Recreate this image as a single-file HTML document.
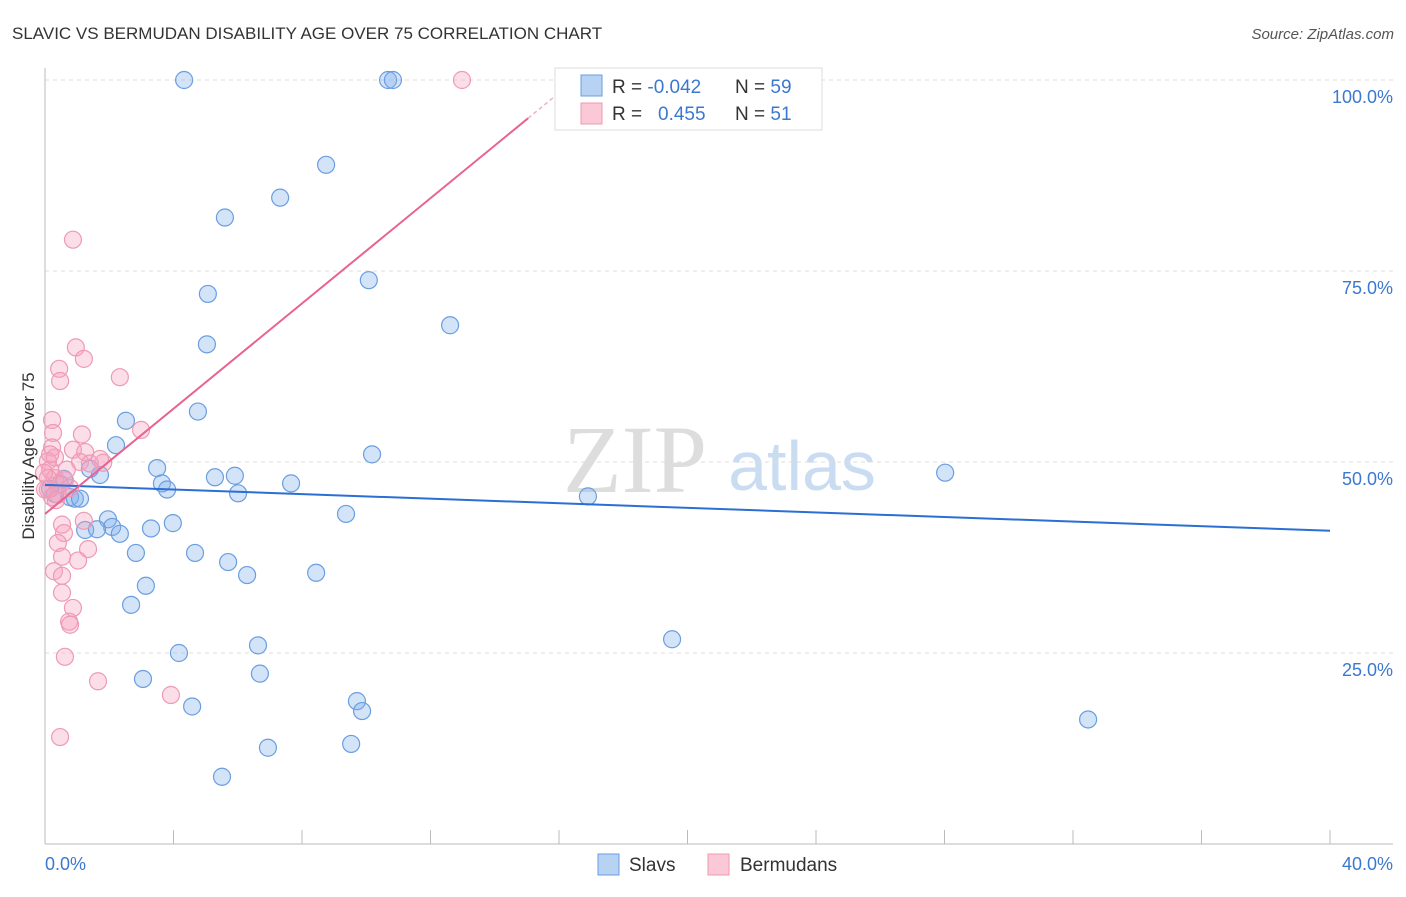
<!DOCTYPE html>
<html><head><meta charset="utf-8"><style>
body{margin:0;background:#fff;font-family:"Liberation Sans",sans-serif}
</style></head><body>
<svg width="1406" height="892" xmlns="http://www.w3.org/2000/svg">
<text x="12" y="39" font-size="17" fill="#333">SLAVIC VS BERMUDAN DISABILITY AGE OVER 75 CORRELATION CHART</text>
<text x="1394" y="39" font-size="15" fill="#555" font-style="italic" text-anchor="end">Source: ZipAtlas.com</text>
<g>
<text x="635" y="492" font-size="96" font-family="Liberation Serif,serif" fill="#ddd" text-anchor="middle">ZIP</text>
<text x="802" y="490" font-size="70" fill="#c9dcf2" text-anchor="middle">atlas</text>
</g>
<g id="grid"></g>
<g id="axes"></g>
<g id="pts"></g>
<g id="lines"></g>
<text x="34" y="456" font-size="17" fill="#333" text-anchor="middle" transform="rotate(-90 34 456)">Disability Age Over 75</text>
<text x="45" y="870" font-size="18" fill="#3b78d0">0.0%</text>
<text x="1393" y="870" font-size="18" fill="#3b78d0" text-anchor="end">40.0%</text>
<g>
<rect x="555" y="68" width="267" height="62" fill="#fff" stroke="#ddd"/>
<rect x="581" y="75" width="21" height="21" fill="#b8d2f4" stroke="#6a9ee0"/>
<rect x="581" y="103" width="21" height="21" fill="#fbc8d8" stroke="#ee9ab5"/>
<text x="612" y="93" font-size="19" fill="#333">R = <tspan fill="#3b78d0">-0.042</tspan></text>
<text x="735" y="93" font-size="19" fill="#333">N = <tspan fill="#3b78d0">59</tspan></text>
<text x="612" y="120" font-size="19" fill="#333">R = <tspan fill="#3b78d0" x="658">0.455</tspan></text>
<text x="735" y="120" font-size="19" fill="#333">N = <tspan fill="#3b78d0">51</tspan></text>
</g>
<g>
<rect x="598" y="854" width="21" height="21" fill="#b8d2f4" stroke="#6a9ee0"/>
<text x="629" y="871" font-size="19" fill="#333">Slavs</text>
<rect x="708" y="854" width="21" height="21" fill="#fbc8d8" stroke="#ee9ab5"/>
<text x="740" y="871" font-size="19" fill="#333">Bermudans</text>
</g>
</svg>
<script>
const yTicks=[25,50,75,100];
const yTickLabels=["25.0%","50.0%","75.0%","100.0%"];
const xTickVals=[0,4,8,12,16,20,24,28,32,36,40];
const slavsX=[4.33,10.68,10.83,8.75,7.32,5.60,10.08,5.07,12.61,5.04,4.76,2.52,2.21,3.49,10.18,28.02,5.29,5.91,3.64,3.80,7.66,6.01,16.90,1.71,1.40,0.59,0.31,0.78,0.93,9.37,3.98,3.30,1.96,2.09,1.25,1.62,2.33,2.83,4.67,5.70,6.29,8.44,3.14,2.68,19.52,6.63,4.17,6.69,3.05,9.71,9.87,4.58,32.47,6.94,9.53,5.51,0.16,0.47,1.09];
const slavsY=[100,100,100,88.9,84.6,82.0,73.8,72.0,67.9,65.4,56.6,55.4,52.2,49.2,51.0,48.6,48.0,48.2,47.2,46.4,47.2,45.9,45.5,48.3,49.1,47.8,45.8,45.4,45.2,43.2,42.0,41.3,42.5,41.5,41.1,41.2,40.6,38.1,38.1,36.9,35.2,35.5,33.8,31.3,26.8,26.0,25.0,22.3,21.6,18.7,17.4,18.0,16.3,12.6,13.1,8.8,46.5,47.1,45.2];
const bermX=[12.98,0.87,0.96,1.21,0.44,0.47,2.33,0.22,0.25,2.99,1.15,0.22,0.31,0.09,0.87,1.25,1.81,1.09,0.16,0.31,0.47,0.09,0.22,0.62,0.78,0.40,1.21,0.53,0.59,0.40,1.34,0.53,1.03,0.28,0.53,0.53,0.87,0.75,0.78,0.62,1.65,3.92,0.47,0.09,-0.03,0.16,0.34,0,0.68,1.40,1.71];
const bermY=[100,79.1,65.0,63.5,62.2,60.6,61.1,55.5,53.8,54.2,53.6,51.9,50.6,50.1,51.6,51.3,49.9,50.0,49.0,47.9,47.0,46.4,45.4,47.6,46.6,45.7,42.3,41.8,40.7,39.4,38.6,37.6,37.1,35.7,35.1,32.9,30.9,29.1,28.7,24.5,21.3,19.5,14.0,47.9,48.6,51.0,45.0,46.4,49.0,49.8,50.4];
const blueLine=[[0,47.0],[40,41.0]];
const pinkLine=[[0,43.2],[15.04,95.0]];
const X=v=>45+v/40*1285, Y=v=>844-v/100*764;
const NS="http://www.w3.org/2000/svg";
function mk(p,t,a){const e=document.createElementNS(NS,t);for(const k in a)e.setAttribute(k,a[k]);p.appendChild(e);return e;}
const grid=document.getElementById('grid'),axes=document.getElementById('axes'),pts=document.getElementById('pts'),lines=document.getElementById('lines');
yTicks.forEach((t,i)=>{
 const l=mk(grid,'line',{x1:45,x2:1393,y1:Y(t),y2:Y(t),stroke:'#ddd','stroke-dasharray':'4,4'});
 
 
 const tx=mk(grid,'text',{x:1393,y:Y(t)+23,'font-size':18,fill:'#3b78d0','text-anchor':'end'});
 tx.textContent=yTickLabels[i];
 
 
});
let a1=mk(axes,'line',{x1:45,x2:45,y1:68,y2:844,stroke:'#bbb'});


let a2=mk(axes,'line',{x1:45,x2:1393,y1:844,y2:844,stroke:'#bbb'});


xTickVals.forEach(v=>{
 const t=mk(axes,'line',{x1:X(v),x2:X(v),y1:830,y2:844,stroke:'#bbb'});
 
 
});
slavsX.forEach((v,i)=>{
 const c=mk(pts,'circle',{cx:X(v),cy:Y(slavsY[i]),r:8.5,fill:'rgba(130,175,235,0.35)',stroke:'#6a9ee0','stroke-width':1.2});
 
 
});
bermX.forEach((v,i)=>{
 const c=mk(pts,'circle',{cx:X(v),cy:Y(bermY[i]),r:8.5,fill:'rgba(245,160,190,0.35)',stroke:'#ee9ab5','stroke-width':1.2});
 
 
});
const bl=mk(lines,'line',{x1:X(blueLine[0][0]),y1:Y(blueLine[0][1]),x2:X(blueLine[1][0]),y2:Y(blueLine[1][1]),stroke:'#2a6fd4','stroke-width':2});


const pl=mk(lines,'line',{x1:X(pinkLine[0][0]),y1:Y(pinkLine[0][1]),x2:X(pinkLine[1][0]),y2:Y(pinkLine[1][1]),stroke:'#e8638f','stroke-width':2});


const slope=(pinkLine[1][1]-pinkLine[0][1])/(pinkLine[1][0]-pinkLine[0][0]);
const xe=pinkLine[0][0]+(101.5-pinkLine[0][1])/slope;
const pd=mk(lines,'line',{x1:X(pinkLine[1][0]),y1:Y(pinkLine[1][1]),x2:X(xe),y2:Y(101.5),stroke:'#f0b0c4','stroke-width':1.5,'stroke-dasharray':'4,3'});


</script>
</body></html>
